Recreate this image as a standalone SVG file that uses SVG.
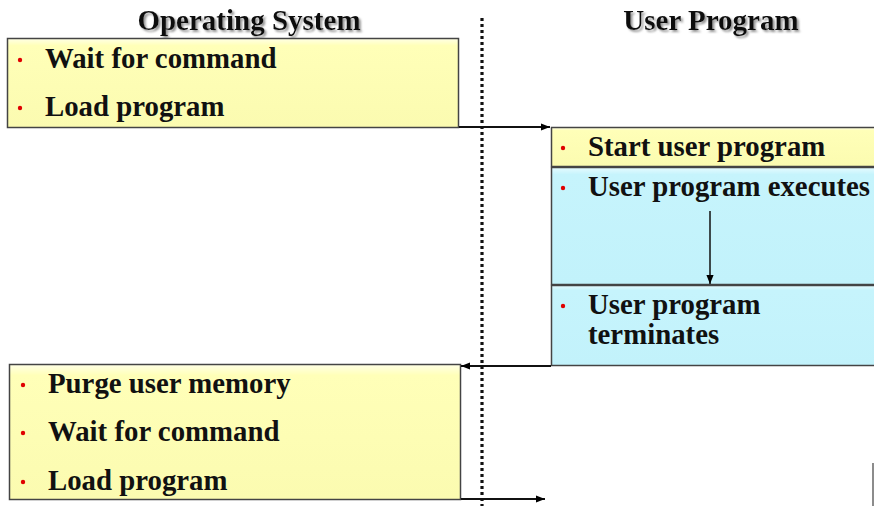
<svg xmlns="http://www.w3.org/2000/svg" width="874" height="506" viewBox="0 0 874 506">
<defs>
<linearGradient id="yel" x1="0" y1="0" x2="0" y2="1">
<stop offset="0" stop-color="#ffffe6"/><stop offset="0.08" stop-color="#ffffb8"/><stop offset="1" stop-color="#fbfbb0"/>
</linearGradient>
<linearGradient id="blu" x1="0" y1="0" x2="0" y2="1">
<stop offset="0" stop-color="#e6fbff"/><stop offset="0.06" stop-color="#c6f4fc"/><stop offset="1" stop-color="#c2f2fb"/>
</linearGradient>
<filter id="sh" x="-10%" y="-30%" width="120%" height="160%">
<feDropShadow dx="2" dy="2" stdDeviation="0.8" flood-color="#888" flood-opacity="0.9"/>
</filter>
<marker id="ah" viewBox="0 0 10 10" refX="10" refY="5" markerWidth="9" markerHeight="9" markerUnits="userSpaceOnUse" orient="auto">
<path d="M0,1 L10,5 L0,9 z" fill="#000"/>
</marker>
</defs>
<style>
.t{font-family:"Liberation Serif","Times New Roman",serif;font-weight:bold;font-size:28.8px;fill:#111}
.h{font-family:"Liberation Serif","Times New Roman",serif;font-weight:bold;font-size:29px;fill:#111;text-anchor:middle;filter:url(#sh)}
.b{fill:#e00000}
.ybox{fill:url(#yel);stroke:#444;stroke-width:1.5}
.bbox{fill:url(#blu);stroke:#444;stroke-width:1.5}
.c{stroke:#111;stroke-width:2;fill:none}
</style>
<rect width="874" height="506" fill="#fff"/>
<g id="headers">
<text class="h" x="249" y="30">Operating System</text>
<text class="h" x="711" y="30">User Program</text>
</g>
<g id="divider">
<line x1="482" y1="18" x2="482" y2="506" stroke="#111" stroke-width="3.2" stroke-dasharray="3,3"/>
</g>
<g id="os1">
<rect class="ybox" x="7.5" y="38.5" width="451" height="89"/>
<circle class="b" cx="20" cy="60" r="2.2"/>
<text class="t" x="45" y="68">Wait for command</text>
<circle class="b" cx="20" cy="108" r="2.2"/>
<text class="t" x="45" y="116">Load program</text>
</g>
<g id="up1">
<rect class="ybox" x="551.5" y="127.5" width="330" height="39"/>
<circle class="b" cx="563" cy="148" r="2.2"/>
<text class="t" x="588" y="156">Start user program</text>
</g>
<g id="up2">
<rect class="bbox" x="551.5" y="167.5" width="330" height="117"/>
<circle class="b" cx="563" cy="188" r="2.2"/>
<text class="t" x="588" y="196">User program executes</text>
</g>
<g id="up3">
<rect class="bbox" x="551.5" y="285.5" width="330" height="80"/>
<circle class="b" cx="563" cy="306" r="2.2"/>
<text class="t" x="588" y="314">User program</text>
<text class="t" x="588" y="344">terminates</text>
</g>
<g id="os2">
<rect class="ybox" x="9.5" y="364.5" width="451" height="135"/>
<circle class="b" cx="23" cy="385" r="2.2"/>
<text class="t" x="48" y="393">Purge user memory</text>
<circle class="b" cx="23" cy="433" r="2.2"/>
<text class="t" x="48" y="441">Wait for command</text>
<circle class="b" cx="23" cy="482" r="2.2"/>
<text class="t" x="48" y="490">Load program</text>
</g>
<g id="connectors">
<line class="c" x1="459" y1="127" x2="550" y2="127" marker-end="url(#ah)"/>
<line x1="710" y1="211" x2="710" y2="284" stroke="#111" stroke-width="1.5" marker-end="url(#ah)"/>
<line class="c" x1="551" y1="366" x2="461" y2="366" marker-end="url(#ah)"/>
<line class="c" x1="461" y1="499" x2="545" y2="499" marker-end="url(#ah)"/>
<line x1="873" y1="463" x2="873" y2="506" stroke="#666" stroke-width="1.5"/>
</g>
</svg>
